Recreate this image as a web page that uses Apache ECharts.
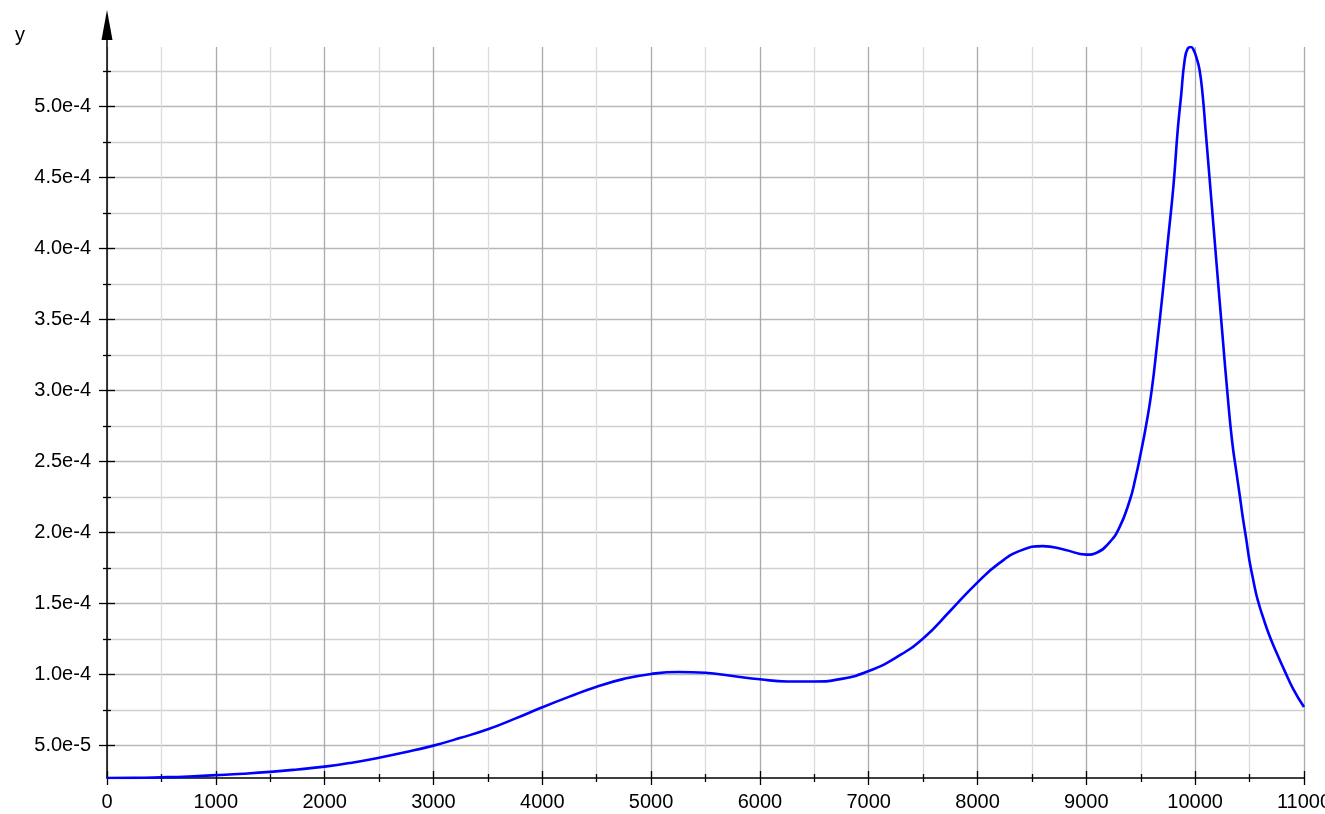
<!DOCTYPE html>
<html>
<head>
<meta charset="utf-8">
<title>y</title>
<script src="https://cdn.jsdelivr.net/npm/echarts@6/dist/echarts.min.js"></script>
<style>
  html, body { margin: 0; padding: 0; background: #fff; }
  #chart { width: 1325px; height: 814px; }
</style>
</head>
<body>
<div id="chart"></div>
<script>
// curve samples (y in units of 1e-5)
var xs = [0, 250, 500, 750, 1000, 1250, 1500, 1750, 2000, 2250,
  2500, 2750, 3000, 3250, 3500, 3750, 4000, 4250, 4500, 4750,
  5000, 5250, 5500, 5750, 6000, 6250, 6500, 6750, 7000, 7250,
  7500, 7750, 8000, 8200, 8400, 8600, 8800, 9000, 9100, 9200,
  9300, 9400, 9450, 9500, 9550, 9600, 9650, 9700, 9750, 9800,
  9840, 9871, 9902, 9932, 9963, 9985, 10010, 10040, 10070, 10095,
  10150, 10200, 10250, 10300, 10340, 10376, 10410, 10437, 10470, 10498,
  10530, 10560, 10590, 10621, 10682, 10750, 10820, 10900, 11000]
var ys = [2.72, 2.73, 2.77, 2.83, 2.92, 3.02, 3.15, 3.32, 3.52, 3.8,
  4.15, 4.55, 5.0, 5.55, 6.15, 6.9, 7.7, 8.45, 9.15, 9.7,
  10.05, 10.19, 10.13, 9.9, 9.67, 9.52, 9.52, 9.7, 10.25, 11.2,
  12.55, 14.5, 16.5, 17.85, 18.75, 19.05, 18.8, 18.45, 18.6, 19.2,
  20.3, 22.3, 23.8, 25.6, 27.6, 30.0, 33.3, 36.8, 40.6, 44.4,
  48.4, 50.8, 53.2, 54.1, 54.2, 54.0, 53.5, 52.6, 50.7, 48.4,
  43.3, 38.6, 34.0, 29.5, 26.4, 24.4, 22.6, 21.1, 19.5, 18.06,
  16.8, 15.7, 14.85, 14.1, 12.75, 11.5, 10.3, 9.0, 7.72]

var xMajorTicks = [0, 1000, 2000, 3000, 4000, 5000, 6000, 7000, 8000, 9000, 10000, 11000]
var xMinorTicks = [500, 1500, 2500, 3500, 4500, 5500, 6500, 7500, 8500, 9500, 10500]
var yMajorTicks = [5e-5, 1e-4, 1.5e-4, 2e-4, 2.5e-4, 3e-4, 3.5e-4, 4e-4, 4.5e-4, 5e-4]
var yMinorTicks = [7.5e-5, 1.25e-4, 1.75e-4, 2.25e-4, 2.75e-4, 3.25e-4, 3.75e-4, 4.25e-4, 4.75e-4, 5.25e-4]
var xMin = 0
var xMax = 11000
var yMin = 2.72e-5
var yMax = 5.42e-4

var font = 'Liberation Sans, Arial, sans-serif'

function xAxisOf (ticks, opts) {
  return {
    type: 'value',
    gridIndex: 0,
    position: 'bottom',
    min: xMin,
    max: xMax,
    axisLine: {show: opts.line, onZero: false, lineStyle: {color: '#000', width: 1.5}},
    axisTick: {show: true, customValues: ticks, inside: opts.inside, length: opts.len,
      lineStyle: {color: '#000', width: 1.3}},
    axisLabel: opts.label
      ? {show: true, customValues: ticks, margin: 14, color: '#000', fontSize: 20, fontFamily: font,
        hideOverlap: false, formatter: function (v) { return String(v) }}
      : {show: false},
    splitLine: opts.split ? {show: true, lineStyle: {color: opts.split, width: 1.3}} : {show: false}
  }
}

function yAxisOf (ticks, opts) {
  return {
    type: 'value',
    gridIndex: 0,
    position: 'left',
    min: yMin,
    max: yMax,
    axisLine: {show: opts.line, onZero: false, lineStyle: {color: '#000', width: 1.5}},
    axisTick: {show: true, customValues: ticks, inside: opts.inside, length: opts.len,
      lineStyle: {color: '#000', width: 1.3}},
    axisLabel: opts.label
      ? {show: true, customValues: ticks, margin: 16, color: '#000', fontSize: 20, fontFamily: font,
        formatter: function (v) { return v.toExponential(1) }}
      : {show: false},
    splitLine: opts.split ? {show: true, lineStyle: {color: opts.split, width: 1.3}} : {show: false}
  }
}

var chart = echarts.init(document.getElementById('chart'), null, {renderer: 'canvas'})

var xAxes = [
  xAxisOf(xMinorTicks, {split: '#dcdcdc', inside: false, len: 4}),
  xAxisOf(xMinorTicks, {inside: true, len: 4}),
  xAxisOf(xMajorTicks, {split: '#a9a9a9', inside: true, len: 7}),
  xAxisOf(xMajorTicks, {line: true, label: true, inside: false, len: 7}),
  // helper axis for the arrow grid
  {type: 'value', gridIndex: 1, show: false, min: xMin, max: xMax}
]
var yAxes = [
  yAxisOf(yMinorTicks, {split: '#d0d0d0', inside: false, len: 4}),
  yAxisOf(yMinorTicks, {inside: true, len: 4}),
  yAxisOf(yMajorTicks, {split: '#b8b8b8', inside: true, len: 8}),
  yAxisOf(yMajorTicks, {label: true, inside: false, len: 8}),
  // y axis line with the arrow head on top
  {
    type: 'value',
    gridIndex: 1,
    position: 'left',
    min: 0,
    max: 1,
    axisLine: {show: true, onZero: false, symbol: ['none', 'triangle'], symbolSize: [11, 30],
      symbolOffset: [0, 15], lineStyle: {color: '#000', width: 1.5}},
    axisTick: {show: false},
    axisLabel: {show: false},
    splitLine: {show: false}
  }
]

var points = xs.map(function (x, i) { return [x, ys[i] * 1e-5] })

chart.setOption({
  animation: false,
  backgroundColor: '#fff',
  title: {
    text: 'y',
    left: 10,
    top: 20,
    textStyle: {color: '#000', fontSize: 20, fontWeight: 'normal', fontFamily: font}
  },
  grid: [
    {left: 107, right: 21, top: 47, bottom: 36, containLabel: false, outerBoundsMode: 'none'},
    {left: 107, right: 21, top: 40, bottom: 36, containLabel: false, outerBoundsMode: 'none'}
  ],
  xAxis: xAxes,
  yAxis: yAxes,
  series: [{
    type: 'line',
    xAxisIndex: 3,
    yAxisIndex: 3,
    data: points,
    showSymbol: false,
    smooth: 0.5,
    clip: true,
    lineStyle: {color: '#0000ff', width: 2.6},
    z: 5
  }]
})
</script>
</body>
</html>
